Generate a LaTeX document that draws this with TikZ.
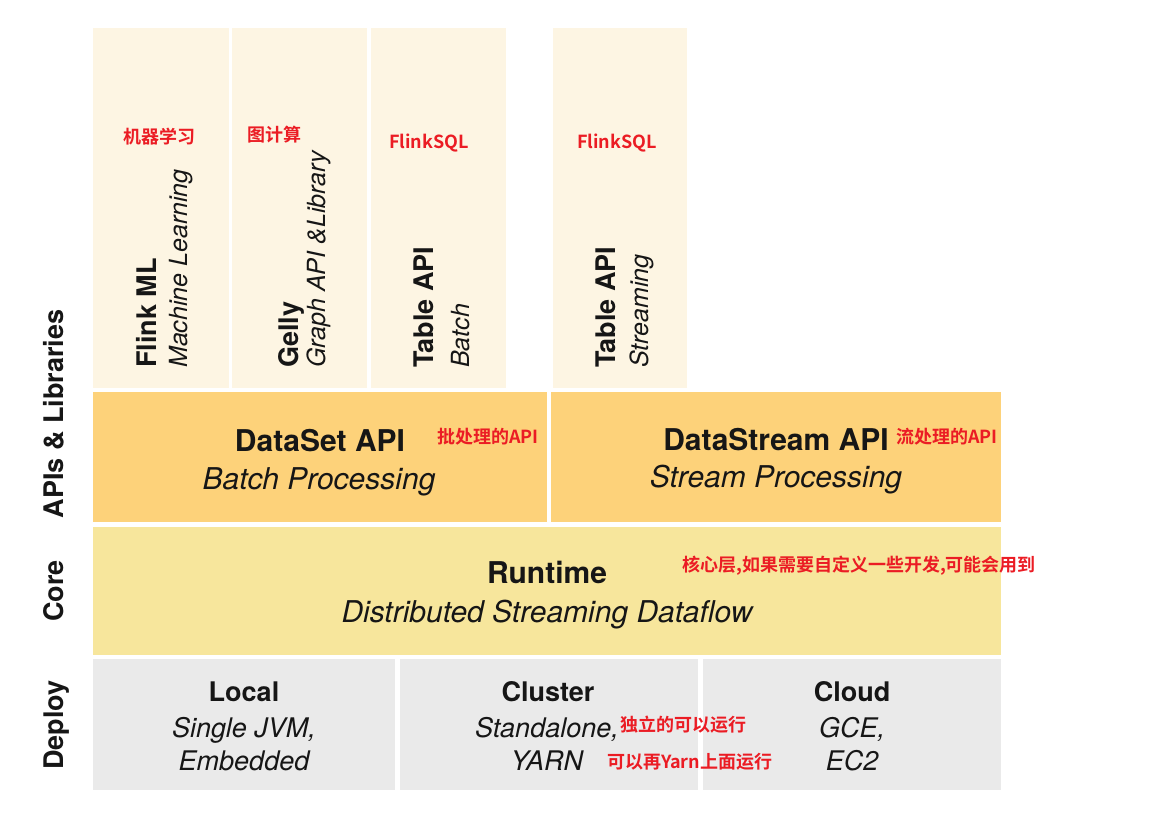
\documentclass[tikz,border=0pt]{standalone}
\usepackage{fontspec}
\setmainfont{TeX Gyre Heros}
\newfontfamily\cjk{Noto Sans CJK SC Bold}
\definecolor{cream}{RGB}{253,245,227}
\definecolor{apiorange}{RGB}{253,210,122}
\definecolor{coreyellow}{RGB}{247,230,156}
\definecolor{deploygray}{RGB}{234,234,234}
\definecolor{notered}{RGB}{235,28,36}
\definecolor{ink}{RGB}{22,22,22}
\tikzset{
  box/.style={inner sep=0, outer sep=0, draw=none, anchor=north west},
  ttl/.style={inner sep=0, text=ink, font=\bfseries\fontsize{30}{36}\selectfont, anchor=base},
  sub/.style={inner sep=0, text=ink, font=\itshape\fontsize{30}{36}\selectfont, anchor=base},
  vttl/.style={inner sep=0, text=ink, font=\bfseries\fontsize{27}{32}\selectfont, rotate=90, anchor=base west},
  vsub/.style={inner sep=0, text=ink, font=\itshape\fontsize{25}{30}\selectfont, rotate=90, anchor=base west},
  dttl/.style={inner sep=0, text=ink, font=\bfseries\fontsize{27}{32}\selectfont, anchor=base},
  dsub/.style={inner sep=0, text=ink, font=\itshape\fontsize{27}{32}\selectfont, anchor=base},
  side/.style={inner sep=0, text=ink, font=\bfseries\fontsize{27}{32}\selectfont, rotate=90, anchor=base},
  note/.style={inner sep=0, text=notered, font=\cjk\fontsize{18}{22}\selectfont, anchor=west},
}
\begin{document}
\begin{tikzpicture}[x=1pt,y=-1pt]
\useasboundingbox (0,0) rectangle (1175,817);
% top library columns
\node[box, fill=cream, minimum width=136pt, minimum height=360pt] (mlbox) at (93,28) {};
\node[box, fill=cream, minimum width=135pt, minimum height=360pt] (gellybox) at (232,28) {};
\node[box, fill=cream, minimum width=135pt, minimum height=360pt] (tbbox) at (371,28) {};
\node[box, fill=cream, minimum width=134pt, minimum height=360pt] (tsbox) at (553,28) {};
% API layer
\node[box, fill=apiorange, minimum width=454pt, minimum height=130pt] (dsbox) at (93,392) {};
\node[box, fill=apiorange, minimum width=450pt, minimum height=130pt] (dstrbox) at (551,392) {};
% core
\node[box, fill=coreyellow, minimum width=908pt, minimum height=128pt] (rtbox) at (93,527) {};
% deploy
\node[box, fill=deploygray, minimum width=302pt, minimum height=131pt] (localbox) at (93,659) {};
\node[box, fill=deploygray, minimum width=298pt, minimum height=131pt] (clusterbox) at (400,659) {};
\node[box, fill=deploygray, minimum width=298pt, minimum height=131pt] (cloudbox) at (703,659) {};

% vertical texts in top columns
\node[vttl] (mlt) at (156,368) {Flink ML};
\node[vsub] (mls) at (187,368) {Machine Learning};
\node[vttl] (gt) at (298,368) {Gelly};
\node[vsub] (gs) at (325,368) {Graph API \&Library};
\node[vttl] (tbt) at (433,368) {Table API};
\node[vsub] (tbs) at (469,368) {Batch};
\node[vttl] (tst) at (615,368) {Table API};
\node[vsub] (tss) at (648,368) {Streaming};

% API layer texts
\node[ttl] (dst) at (320,451) {DataSet API};
\node[sub] (dss) at (319,489) {Batch Processing};
\node[ttl] (dstrt) at (776,450) {DataStream API};
\node[sub] (dstrs) at (776,487) {Stream Processing};

% core texts
\node[ttl] (rtt) at (547,583) {Runtime};
\node[sub] (rts) at (547,622) {Distributed Streaming Dataflow};

% deploy texts
\node[dttl] (lt) at (244,701) {Local};
\node[dsub] (ls1) at (244,737) {Single JVM,};
\node[dsub] (ls2) at (244,770) {Embedded};
\node[dttl] (ct) at (548,701) {Cluster};
\node[dsub] (cs1) at (547,737) {Standalone,};
\node[dsub] (cs2) at (547,770) {YARN};
\node[dttl] (clt) at (852,701) {Cloud};
\node[dsub] (cls1) at (852,737) {GCE,};
\node[dsub] (cls2) at (852,770) {EC2};

% side labels
\node[side] (sapi) at (63,414) {APIs \& Libraries};
\node[side] (score) at (63,591) {Core};
\node[side] (sdeploy) at (63,725) {Deploy};

% red annotations
\node[note] (n1) at (123,137) {机器学习};
\node[note] (n2) at (247,135) {图计算};
\node[note] (n3) at (389,143) {FlinkSQL};
\node[note] (n4) at (577,143) {FlinkSQL};
\node[note] (n5) at (437,437) {批处理的API};
\node[note] (n6) at (896,437) {流处理的API};
\node[note] (n7) at (682,566) {核心层,如果需要自定义一些开发,可能会用到};
\node[note] (n8) at (620,725) {独立的可以运行};
\node[note] (n9) at (607,762) {可以再Yarn上面运行};
\end{tikzpicture}
\end{document}
